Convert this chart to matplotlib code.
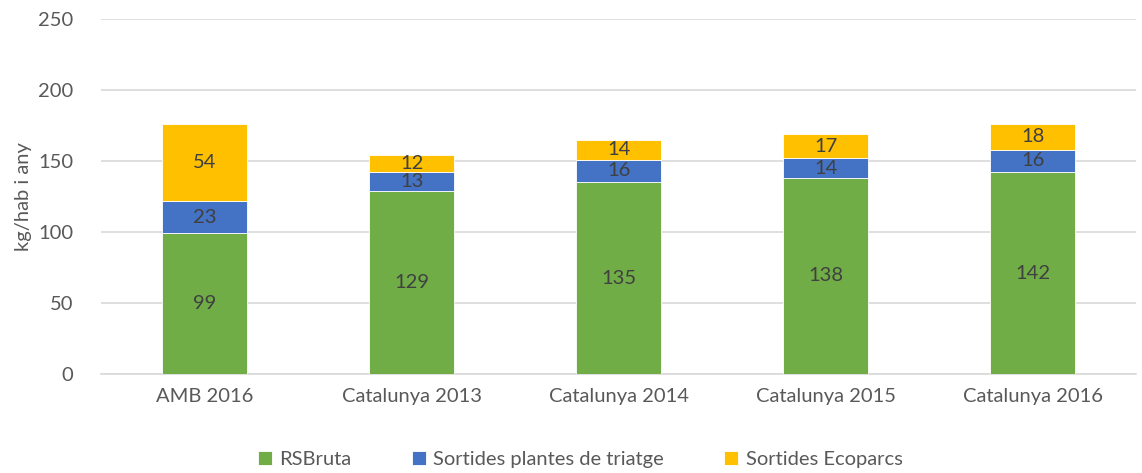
import numpy as np
import matplotlib
matplotlib.use('Agg')
import matplotlib.pyplot as plt

categories = ['AMB 2016', 'Catalunya 2013', 'Catalunya 2014', 'Catalunya 2015', 'Catalunya 2016']
rsbruta = [99, 129, 135, 138, 142]
plantes = [23, 13, 16, 14, 16]
ecoparcs = [54, 12, 14, 17, 18]
series_names = ['RSBruta', 'Sortides plantes de triatge', 'Sortides Ecoparcs']
colors = ['#70AD47', '#4472C4', '#FFC000']

plt.rcParams['font.family'] = ['Lato', 'DejaVu Sans']
fs = 14.5

fig = plt.figure(figsize=(11.42, 4.73), dpi=100)
ax = fig.add_axes([0.0885, 0.2093, 0.9065, 0.7507])

x = np.arange(len(categories))
bottom = np.zeros(len(categories))
for vals, name, col in zip([rsbruta, plantes, ecoparcs], series_names, colors):
    vals = np.array(vals, dtype=float)
    ax.bar(x, vals, 0.41, bottom=bottom, color=col, label=name,
           edgecolor='white', linewidth=0.6, zorder=3)
    for xi, b, v in zip(x, bottom, vals):
        ax.text(xi, b + v / 2, f'{int(v)}', ha='center', va='center',
                fontsize=fs, color='#404040', zorder=4)
    bottom += vals

ax.set_xlim(-0.5, len(categories) - 0.5)
ax.set_ylim(0, 250)
ax.set_yticks(range(0, 251, 50))
ax.set_xticks(x)
ax.set_xticklabels(categories)
ax.tick_params(axis='both', length=0, labelsize=fs, colors='#595959')
ax.tick_params(axis='x', pad=10)
ax.tick_params(axis='y', pad=20)
ax.grid(axis='y', color='#D9D9D9', linewidth=1.2, zorder=0)
for s in ['top', 'right', 'left']:
    ax.spines[s].set_visible(False)
ax.spines['bottom'].set_color('#D9D9D9')
ax.spines['bottom'].set_linewidth(1.2)
ax.set_ylabel('kg/hab i any', fontsize=fs, color='#595959', labelpad=4)

ax.legend(loc='upper center', bbox_to_anchor=(0.463, -0.165), ncol=3, frameon=False,
          fontsize=fs, labelcolor='#595959', handlelength=0.7, handleheight=0.7,
          handletextpad=0.35, columnspacing=3.0)

fig.savefig('out.png', dpi=100)
